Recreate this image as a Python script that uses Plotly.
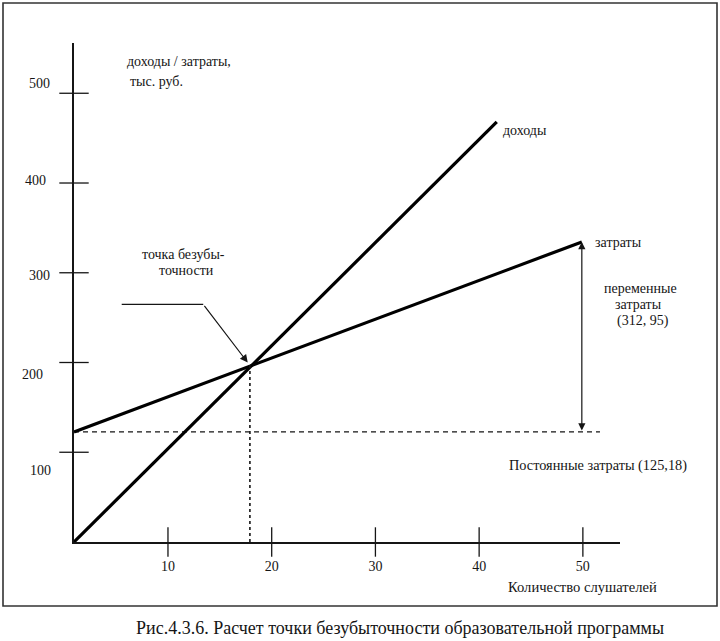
import plotly.graph_objects as go

# ---------------- data ----------------
x_ticks = [10, 20, 30, 40, 50]
y_ticks = [100, 200, 300, 400, 500]
y_tick_labels = ["100", "200", "300", "400", "500"]

x_start = 0.94                      # where the y axis crosses the x axis
revenue_x = [0.94, 41.7]            # students
revenue_y = [0, 468]                # тыс. руб.
costs_x = [0.94, 49.9]
costs_y = [122.6, 334.3]
fixed_cost = 122.6
fixed_line_end = 51.65
break_even_x = 17.9
break_even_y = 197
pointer_x = [5.54, 13.4]
pointer_y = 264.8

# ---------------- geometry ----------------
W, H = 720, 641
L, R, T, B = 74, 100, 43, 99
PW, PH = W - L - R, H - T - B
X_RANGE = [0.94, 53.58]
Y_RANGE = [0, 556]

FONT = "Liberation Serif"
INK = "#151515"


def px(x):
    return (x - L) / PW


def py(y):
    return (H - B - y) / PH


fig = go.Figure()

# dashed fixed-cost line
fig.add_trace(go.Scatter(x=[x_start, fixed_line_end], y=[fixed_cost, fixed_cost],
                         mode="lines", line=dict(color=INK, width=1.3, dash="5px,4px"),
                         hoverinfo="skip", showlegend=False))
# revenue and costs
fig.add_trace(go.Scatter(x=revenue_x, y=revenue_y, mode="lines",
                         line=dict(color="#000", width=3.2), showlegend=False))
fig.add_trace(go.Scatter(x=costs_x, y=costs_y, mode="lines",
                         line=dict(color="#000", width=3.2), showlegend=False))
# dotted break-even drop line
fig.add_trace(go.Scatter(x=[break_even_x, break_even_x], y=[0, break_even_y],
                         mode="lines", line=dict(color=INK, width=1.6, dash="3px,3px"),
                         showlegend=False))
# pointer horizontal segment
fig.add_trace(go.Scatter(x=pointer_x, y=[pointer_y, pointer_y], mode="lines",
                         line=dict(color=INK, width=1.2), showlegend=False))
# crossing tick marks on both axes
fig.add_trace(go.Scatter(x=x_ticks, y=[0] * len(x_ticks), mode="markers",
                         marker=dict(symbol="line-ns-open", size=21, color=INK,
                                     line=dict(color=INK, width=1.3)),
                         cliponaxis=False, hoverinfo="skip", showlegend=False))
fig.add_trace(go.Scatter(x=[x_start] * len(y_ticks), y=y_ticks, mode="markers",
                         marker=dict(symbol="line-ew-open", size=21, color=INK,
                                     line=dict(color=INK, width=1.3)),
                         cliponaxis=False, hoverinfo="skip", showlegend=False))

ann = []
# pointer arrow
ann.append(dict(x=break_even_x - 0.15, y=break_even_y + 2, ax=pointer_x[1], ay=pointer_y,
                xref="x", yref="y", axref="x", ayref="y", text="", showarrow=True,
                arrowhead=2, arrowsize=1.3, arrowwidth=1.2, arrowcolor=INK, standoff=1))
# variable cost double arrow
ann.append(dict(x=costs_x[1], y=costs_y[1], ax=costs_x[1], ay=fixed_cost,
                xref="x", yref="y", axref="x", ayref="y", text="", showarrow=True,
                arrowhead=2, startarrowhead=2, arrowside="end+start",
                arrowsize=1.2, startarrowsize=1.2, arrowwidth=1.2, arrowcolor=INK))

# y tick labels (irregularly placed in the original)
y_label_center_px = [40, 32.5, 39, 35, 39]
y_label_shift = [-18, -12, -3, 3, 10]
for v, lab, cx, sh in zip(y_ticks, y_tick_labels, y_label_center_px, y_label_shift):
    ann.append(dict(x=px(cx), y=v, xref="paper", yref="y", text=lab, showarrow=False,
                    yshift=sh, xanchor="center", yanchor="middle",
                    font=dict(family=FONT, size=14, color=INK)))


def text(s, x, y, size=14, anchor="left", align="left"):
    ann.append(dict(x=px(x), y=py(y), xref="paper", yref="paper", text=s, showarrow=False,
                    xanchor=anchor, yanchor="middle", align=align,
                    font=dict(family=FONT, size=size, color=INK)))


text("доходы / затраты,", 125, 61)
text("тыс. руб.", 128, 82)
text("доходы", 501, 131)
text("затраты", 593, 243)
text("переменные", 640, 288, anchor="center")
text("затраты", 638, 304, anchor="center")
text("(312, 95)", 643, 321, anchor="center")
text("Постоянные затраты (125,18)", 507, 465, size=14.3)
text("Количество слушателей", 506, 587, size=14.6)
text("точка безубы-", 183, 254, anchor="center")
text("точности", 186, 270, anchor="center")
text("Рис.4.3.6. Расчет точки безубыточности образовательной программы", 400, 628,
     size=18, anchor="center")

shapes = [dict(type="rect", xref="paper", yref="paper",
               x0=px(3), x1=px(717), y0=py(606), y1=py(3),
               line=dict(color="#333", width=1.6), layer="below")]

fig.update_layout(
    width=W, height=H, margin=dict(l=L, r=R, t=T, b=B),
    paper_bgcolor="white", plot_bgcolor="white",
    showlegend=False,
    font=dict(family=FONT, color=INK),
    xaxis=dict(range=X_RANGE, tickvals=x_ticks, ticks="", showline=True,
               linecolor=INK, linewidth=1.6, showgrid=False, zeroline=False,
               ticklabelstandoff=10,
               tickfont=dict(family=FONT, size=14, color=INK)),
    yaxis=dict(range=Y_RANGE, tickvals=y_ticks, ticks="", showline=True,
               linecolor=INK, linewidth=1.6, showgrid=False, zeroline=False,
               showticklabels=False),
    annotations=ann, shapes=shapes,
)

fig.write_html("out.html")
